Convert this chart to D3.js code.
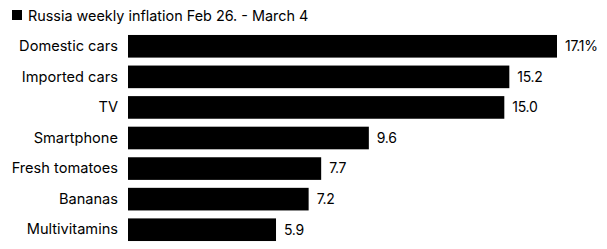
<!DOCTYPE html>
<meta charset="utf-8">
<style>
  body { margin: 0; background: #fff; }
  text { font-family: Inter, "Liberation Sans", Arial, sans-serif; fill: #000; }
</style>
<script src="https://d3js.org/d3.v7.min.js"></script>
<div id="chart"></div>
<script>
// data
var categories = ["Domestic cars", "Imported cars", "TV", "Smartphone", "Fresh tomatoes", "Bananas", "Multivitamins"];
var values = [17.1, 15.2, 15.0, 9.6, 7.7, 7.2, 5.9];
var valueLabels = ["17.1%", "15.2", "15.0", "9.6", "7.7", "7.2", "5.9"];
var title = "Russia weekly inflation Feb 26. - March 4";

var width = 607, height = 249;
var margin = {top: 31, right: 50, bottom: 4, left: 128};
var fontSize = "14.6px";

var svg = d3.select("#chart")
  .append("svg")
    .attr("width", width)
    .attr("height", height);

// title with square key
svg.append("rect")
    .attr("x", 12).attr("y", 10)
    .attr("width", 10).attr("height", 10)
    .attr("fill", "#000");
svg.append("text")
    .attr("x", 28).attr("y", 20.5)
    .style("font-size", "14.4px")
    .text(title);

var x = d3.scaleLinear()
  .domain([0, 17.1])
  .range([margin.left, 557]);

var y = d3.scaleBand()
  .domain(categories)
  .range([margin.top, 245])
  .paddingInner(0.26)
  .paddingOuter(0.13);

var data = categories.map(function(c, i) {
  return {cat: c, value: values[i], label: valueLabels[i]};
});

// category labels via axis, no line/ticks
var axis = svg.append("g")
  .attr("transform", "translate(" + (margin.left - 10) + ",0)")
  .call(d3.axisLeft(y).tickSize(0).tickPadding(0));
axis.select(".domain").remove();
axis.selectAll("text")
  .style("font-size", fontSize)
  .style("font-family", "Inter, \"Liberation Sans\", Arial, sans-serif")
  .attr("fill", "#000");

svg.selectAll("rect.bar")
  .data(data)
  .enter()
  .append("rect")
    .attr("class", "bar")
    .attr("x", x(0))
    .attr("y", function(d) { return y(d.cat); })
    .attr("width", function(d) { return x(d.value) - x(0); })
    .attr("height", y.bandwidth())
    .attr("fill", "#000");

svg.selectAll("text.val")
  .data(data)
  .enter()
  .append("text")
    .attr("class", "val")
    .attr("x", function(d) { return x(d.value) + 8; })
    .attr("y", function(d) { return y(d.cat) + y.bandwidth() / 2; })
    .attr("dy", "0.35em")
    .style("font-size", "14px")
    .style("letter-spacing", "-0.3px")
    .text(function(d) { return d.label; });
</script>
